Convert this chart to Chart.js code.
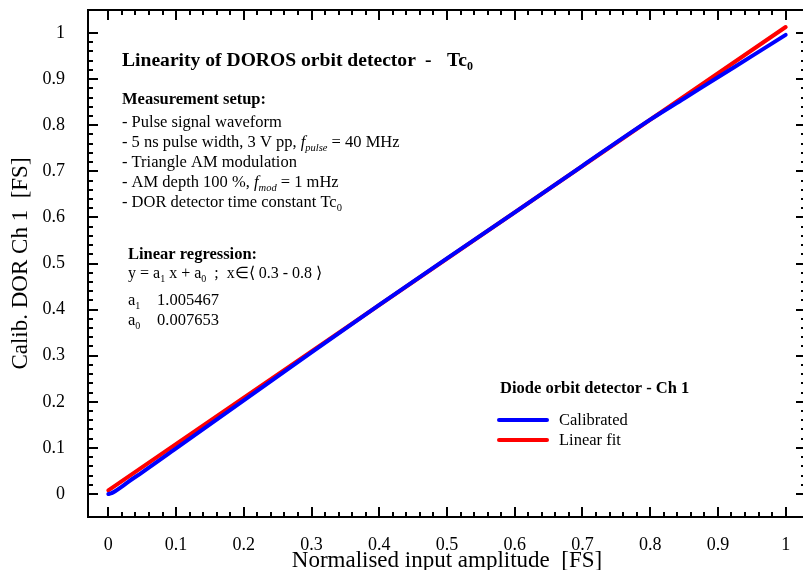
<!DOCTYPE html>
<html>
<head>
<meta charset="utf-8">
<script src="https://cdn.jsdelivr.net/npm/chart.js@4.4.1/dist/chart.umd.min.js"></script>
<style>
  html, body { margin: 0; padding: 0; background: #fff; overflow: hidden; }
  #wrap { width: 812px; height: 570px; }
</style>
</head>
<body>
<div id="wrap"><canvas id="linearity-chart" width="812" height="570"></canvas></div>
<script>
// Calibrated DOR channel 1
const calibX = [0, 0.005, 0.01, 0.02, 0.03, 0.05, 0.1, 0.2, 0.3, 0.4, 0.5, 0.6, 0.7, 0.8, 0.85, 0.9, 0.95, 1.0];
const calibY = [0, 0.002, 0.006, 0.016, 0.027, 0.047, 0.099, 0.203, 0.307, 0.410, 0.511, 0.611, 0.712, 0.812, 0.858, 0.904, 0.950, 0.996];

// Linear fit end points
const fitX = [0, 1];
const fitY = [0.0077, 1.0131];

const xTickLabels = ["0", "0.1", "0.2", "0.3", "0.4", "0.5", "0.6", "0.7", "0.8", "0.9", "1"];
const yTickLabels = ["0", "0.1", "0.2", "0.3", "0.4", "0.5", "0.6", "0.7", "0.8", "0.9", "1"];

const serif = "'Liberation Serif', 'Times New Roman', serif";

function toPoints(xs, ys) {
  return xs.map((x, i) => ({ x: x, y: ys[i] }));
}

// draw a run of text pieces one after another (for subscripts / italics)
function drawRich(ctx, x, y, parts) {
  let cx = x;
  for (const p of parts) {
    ctx.font = p.f + " " + serif;
    ctx.fillText(p.t, cx, y + (p.dy || 0));
    cx += ctx.measureText(p.t).width;
  }
}

// frame round the plot area with inward ticks on all four sides
const frameTicks = {
  id: "frameTicks",
  afterDraw(chart) {
    const { ctx, chartArea: a, scales: { x, y } } = chart;
    ctx.save();
    ctx.strokeStyle = "#000";
    ctx.lineWidth = 2;
    ctx.strokeRect(a.left, a.top, a.right - a.left, a.bottom - a.top);
    ctx.beginPath();
    for (let i = 0; i <= 50; i++) {
      const v = i * 0.02;
      const len = i % 5 === 0 ? 10 : 5;
      const px = Math.round(x.getPixelForValue(v));
      ctx.moveTo(px, a.bottom); ctx.lineTo(px, a.bottom - len);
      ctx.moveTo(px, a.top); ctx.lineTo(px, a.top + len);
      const py = Math.round(y.getPixelForValue(v));
      ctx.moveTo(a.left, py); ctx.lineTo(a.left + len, py);
      ctx.moveTo(a.right, py); ctx.lineTo(a.right - len, py);
    }
    ctx.stroke();
    ctx.restore();
  }
};

const notes = {
  id: "notes",
  afterDraw(chart) {
    const ctx = chart.ctx;
    ctx.save();
    ctx.fillStyle = "#000";
    ctx.textBaseline = "alphabetic";
    ctx.textAlign = "left";

    drawRich(ctx, 122, 66, [{ t: "Linearity of DOROS orbit detector", f: "bold 19.6px" }]);
    drawRich(ctx, 425, 66, [{ t: "-", f: "bold 19.6px" }]);
    drawRich(ctx, 447, 66, [{ t: "Tc", f: "bold 19.6px" }, { t: "0", f: "bold 12px", dy: 4 }]);

    drawRich(ctx, 122, 104, [{ t: "Measurement setup:", f: "bold 16.5px" }]);
    drawRich(ctx, 122, 127, [{ t: "- Pulse signal waveform", f: "16.5px" }]);
    drawRich(ctx, 122, 147, [
      { t: "- 5 ns pulse width, 3 V pp, ", f: "16.5px" },
      { t: "f", f: "italic 16.5px" },
      { t: "pulse", f: "italic 10.5px", dy: 4 },
      { t: " = 40 MHz", f: "16.5px" }
    ]);
    drawRich(ctx, 122, 167, [{ t: "- Triangle AM modulation", f: "16.5px" }]);
    drawRich(ctx, 122, 187, [
      { t: "- AM depth 100 %, ", f: "16.5px" },
      { t: "f", f: "italic 16.5px" },
      { t: "mod", f: "italic 10.5px", dy: 4 },
      { t: " = 1 mHz", f: "16.5px" }
    ]);
    drawRich(ctx, 122, 207, [{ t: "- DOR detector time constant Tc", f: "16.5px" }, { t: "0", f: "10.5px", dy: 4 }]);

    drawRich(ctx, 128, 259, [{ t: "Linear regression:", f: "bold 16.5px" }]);
    drawRich(ctx, 128, 278, [
      { t: "y = a", f: "16px" }, { t: "1", f: "10px", dy: 4 },
      { t: " x + a", f: "16px" }, { t: "0", f: "10px", dy: 4 },
      { t: "  ;  x\u2208\u27E8 0.3 - 0.8 \u27E9", f: "16px" }
    ]);
    drawRich(ctx, 128, 305, [{ t: "a", f: "16.5px" }, { t: "1", f: "10px", dy: 4 }]);
    drawRich(ctx, 157, 305, [{ t: "1.005467", f: "16.5px" }]);
    drawRich(ctx, 128, 325, [{ t: "a", f: "16.5px" }, { t: "0", f: "10px", dy: 4 }]);
    drawRich(ctx, 157, 325, [{ t: "0.007653", f: "16.5px" }]);

    // legend
    drawRich(ctx, 500, 393, [{ t: "Diode orbit detector - Ch 1", f: "bold 16.5px" }]);
    const ds = chart.data.datasets;
    const rows = [[ds[0], 420], [ds[1], 440]];
    ctx.lineWidth = 4;
    ctx.lineCap = "round";
    for (const [d, ly] of rows) {
      ctx.strokeStyle = d.borderColor;
      ctx.beginPath();
      ctx.moveTo(499, ly);
      ctx.lineTo(547, ly);
      ctx.stroke();
      drawRich(ctx, 559, ly + 5, [{ t: d.label, f: "16.5px" }]);
    }
    ctx.restore();
  }
};

const ctx = document.getElementById("linearity-chart").getContext("2d");

const chart = new Chart(ctx, {
  type: "scatter",
  data: {
    datasets: [
      {
        label: "Calibrated",
        data: toPoints(calibX, calibY),
        showLine: true,
        borderColor: "#0000ff",
        borderWidth: 4,
        borderCapStyle: "round",
        pointRadius: 0,
        cubicInterpolationMode: "monotone"
      },
      {
        label: "Linear fit",
        data: toPoints(fitX, fitY),
        showLine: true,
        borderColor: "#ff0000",
        borderWidth: 4,
        borderCapStyle: "round",
        pointRadius: 0
      }
    ]
  },
  options: {
    responsive: false,
    animation: false,
    layout: { padding: { top: 10, right: 6, left: 0, bottom: 0 } },
    scales: {
      x: {
        type: "linear",
        min: -0.03,
        max: 1.03,
        afterBuildTicks: (s) => { s.ticks = xTickLabels.map((t) => ({ value: Number(t) })); },
        afterFit: (s) => {
          s.height = 53;
          s.paddingLeft = 0; s.paddingRight = 0; s.paddingTop = 0; s.paddingBottom = 0;
        },
        grid: { display: false },
        border: { display: false },
        ticks: {
          padding: 9,
          color: "#000",
          font: { family: serif, size: 18 },
          maxRotation: 0,
          autoSkip: false,
          callback: (v, i) => xTickLabels[i]
        },
        title: {
          display: true,
          text: "Normalised input amplitude  [FS]",
          color: "#000",
          font: { family: serif, size: 23, lineHeight: 1 },
          padding: { top: 0, bottom: -2 }
        }
      },
      y: {
        type: "linear",
        min: -0.05,
        max: 1.05,
        afterBuildTicks: (s) => { s.ticks = yTickLabels.map((t) => ({ value: Number(t) })); },
        afterFit: (s) => {
          s.width = 88;
          s.paddingLeft = 0; s.paddingRight = 0; s.paddingTop = 0; s.paddingBottom = 0;
        },
        grid: { display: false },
        border: { display: false },
        ticks: {
          padding: 15,
          color: "#000",
          font: { family: serif, size: 18 },
          autoSkip: false,
          callback: (v, i) => yTickLabels[i]
        },
        title: {
          display: true,
          text: "Calib. DOR Ch 1  [FS]",
          color: "#000",
          font: { family: serif, size: 23, lineHeight: 1 },
          padding: { top: 9, bottom: 0 }
        }
      }
    },
    plugins: {
      legend: { display: false },
      tooltip: { enabled: false }
    }
  },
  plugins: [frameTicks, notes]
});
</script>
</body>
</html>
